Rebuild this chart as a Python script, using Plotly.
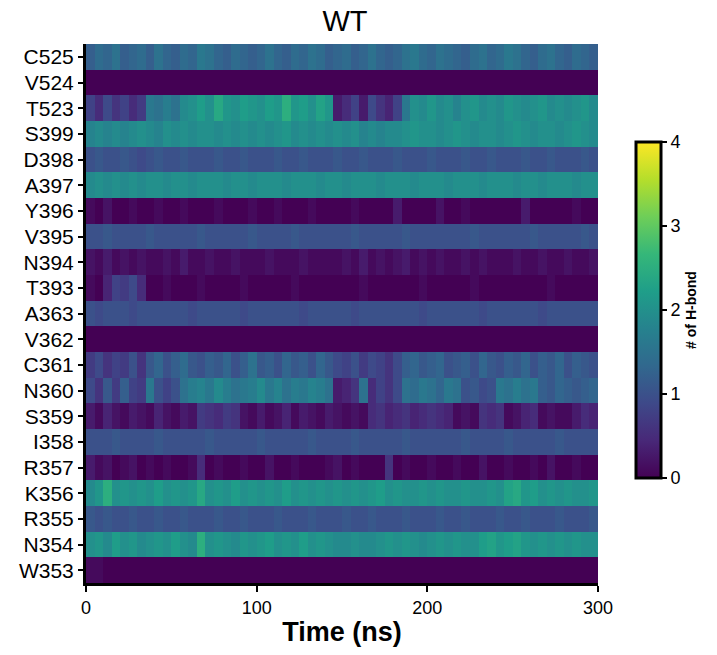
import plotly.graph_objects as go

# residues, bottom to top
residues = ["W353", "N354", "R355", "K356", "R357", "I358", "S359", "N360", "C361",
            "V362", "A363", "T393", "N394", "V395", "Y396", "A397", "D398", "S399",
            "T523", "V524", "C525"]

# time bins, 5 ns each, 0-300 ns
time_ns = [2.5 + 5 * i for i in range(60)]

# number of H-bonds per residue (5 ns bins)
C525 = [1.2, 1.4, 1.3, 1.5, 1.2, 1.3, 1.4, 1.2, 1.5, 1.3,
        1.2, 1.4, 1.3, 1.6, 1.5, 1.3, 1.2, 1.4, 1.3, 1.2,
        1.3, 1.5, 1.3, 1.2, 1.4, 1.3, 1.5, 1.4, 1.2, 1.3,
        1.4, 1.2, 1.3, 1.5, 1.3, 1.2, 1.3, 1.5, 1.6, 1.4,
        1.3, 1.5, 1.4, 1.3, 1.2, 1.4, 1.5, 1.3, 1.4, 1.6,
        1.5, 1.3, 1.2, 1.4, 1.5, 1.3, 1.2, 1.4, 1.3, 1.2]
V524 = [0, 0, 0, 0, 0, 0, 0, 0, 0, 0,
        0, 0, 0, 0, 0, 0, 0, 0, 0, 0,
        0, 0, 0, 0, 0, 0, 0, 0, 0, 0,
        0, 0, 0, 0, 0, 0, 0, 0, 0, 0,
        0, 0, 0, 0, 0, 0, 0, 0, 0, 0,
        0, 0, 0, 0, 0, 0, 0, 0, 0, 0]
T523 = [0.8, 0.5, 0.9, 0.6, 0.8, 0.5, 0.7, 1.6, 1.5, 1.7,
        1.5, 1.9, 2.0, 2.2, 2.0, 2.4, 2.1, 2.0, 2.2, 2.1,
        2.0, 2.2, 2.1, 2.5, 2.1, 2.2, 2.0, 2.3, 2.1, 0.3,
        0.5, 0.8, 0.3, 0.9, 0.6, 0.4, 0.8, 1.6, 2.0, 1.9,
        2.1, 1.9, 2.0, 1.8, 2.0, 2.1, 1.9, 2.0, 1.9, 2.1,
        2.0, 1.9, 2.0, 2.1, 1.9, 2.0, 1.9, 2.0, 2.1, 1.9]
S399 = [1.8, 1.9, 1.8, 1.9, 1.8, 1.9, 2.0, 1.9, 1.8, 2.0,
        1.9, 2.0, 1.9, 2.0, 2.0, 1.9, 2.0, 1.9, 2.0, 1.9,
        2.0, 1.9, 2.0, 2.1, 1.9, 2.0, 1.9, 2.0, 1.9, 2.0,
        1.9, 2.0, 1.8, 1.9, 1.8, 1.9, 1.9, 2.0, 2.1, 2.0,
        2.0, 1.9, 2.0, 2.1, 2.0, 1.9, 2.0, 2.0, 1.9, 2.0,
        2.1, 2.0, 1.9, 2.0, 2.0, 1.9, 2.0, 2.1, 2.0, 1.9]
D398 = [1.0, 1.1, 1.0, 1.0, 1.1, 1.0, 0.9, 1.0, 1.1, 1.0,
        1.0, 1.1, 1.0, 1.0, 1.0, 1.1, 1.0, 1.0, 1.1, 1.0,
        1.0, 1.0, 1.1, 1.0, 1.0, 1.1, 1.0, 1.0, 1.0, 1.1,
        1.0, 1.0, 1.1, 1.0, 1.0, 1.0, 1.1, 1.0, 1.0, 1.0,
        1.1, 1.0, 1.0, 1.0, 1.1, 1.0, 1.0, 1.1, 1.0, 1.0,
        1.0, 1.1, 1.0, 1.0, 1.1, 1.0, 1.0, 1.0, 1.1, 1.0]
A397 = [1.9, 2.0, 1.9, 2.0, 1.9, 2.0, 1.9, 2.0, 2.0, 1.9,
        2.0, 2.0, 1.9, 2.0, 2.0, 2.0, 1.9, 2.0, 2.0, 1.9,
        2.0, 2.0, 2.0, 1.9, 2.0, 2.0, 2.0, 1.9, 2.0, 2.0,
        1.9, 2.0, 2.0, 2.0, 1.9, 2.0, 2.0, 2.0, 1.9, 2.0,
        2.0, 2.0, 1.9, 2.0, 2.0, 2.0, 1.9, 2.0, 2.0, 2.0,
        1.9, 2.0, 2.0, 1.9, 2.0, 2.0, 2.0, 1.9, 2.0, 2.0]
Y396 = [0.1, 0.0, 0.2, 0.0, 0.0, 0.1, 0.0, 0.0, 0.1, 0.0,
        0.0, 0.1, 0.0, 0.0, 0.0, 0.1, 0.0, 0.0, 0.0, 0.1,
        0.0, 0.0, 0.1, 0.0, 0.0, 0.0, 0.1, 0.0, 0.0, 0.0,
        0.0, 0.1, 0.0, 0.0, 0.0, 0.0, 0.3, 0.0, 0.0, 0.0,
        0.0, 0.2, 0.0, 0.0, 0.1, 0.0, 0.0, 0.0, 0.0, 0.0,
        0.0, 0.3, 0.0, 0.0, 0.0, 0.0, 0.0, 0.1, 0.0, 0.0]
V395 = [1.0, 1.0, 1.1, 1.0, 1.0, 1.0, 1.0, 1.1, 1.0, 1.0,
        1.0, 1.0, 1.0, 1.1, 1.0, 1.0, 1.0, 1.0, 1.0, 1.1,
        1.0, 1.0, 1.0, 1.0, 1.1, 1.0, 1.0, 1.0, 1.0, 1.0,
        1.0, 1.1, 1.0, 1.0, 1.0, 1.0, 1.0, 1.1, 1.0, 1.0,
        1.0, 1.0, 1.0, 1.0, 1.0, 1.1, 1.0, 1.0, 1.0, 1.0,
        1.0, 1.0, 1.1, 1.0, 1.0, 1.0, 1.0, 1.0, 1.1, 1.0]
N394 = [0.2, 0.1, 0.3, 0.1, 0.2, 0.1, 0.2, 0.1, 0.1, 0.2,
        0.1, 0.3, 0.1, 0.1, 0.2, 0.1, 0.1, 0.2, 0.1, 0.1,
        0.1, 0.2, 0.1, 0.1, 0.1, 0.2, 0.1, 0.1, 0.1, 0.1,
        0.2, 0.1, 0.3, 0.1, 0.2, 0.1, 0.2, 0.3, 0.1, 0.2,
        0.1, 0.2, 0.1, 0.1, 0.2, 0.1, 0.2, 0.1, 0.1, 0.1,
        0.2, 0.1, 0.1, 0.2, 0.1, 0.1, 0.2, 0.1, 0.1, 0.2]
T393 = [0.1, 0.0, 0.4, 0.8, 0.7, 0.9, 0.5, 0.0, 0.0, 0.1,
        0.0, 0.0, 0.0, 0.1, 0.0, 0.0, 0.0, 0.0, 0.1, 0.0,
        0.0, 0.0, 0.0, 0.0, 0.1, 0.0, 0.0, 0.0, 0.0, 0.0,
        0.0, 0.0, 0.1, 0.0, 0.0, 0.0, 0.0, 0.0, 0.0, 0.1,
        0.0, 0.0, 0.0, 0.0, 0.0, 0.1, 0.0, 0.0, 0.0, 0.0,
        0.0, 0.0, 0.0, 0.0, 0.1, 0.0, 0.0, 0.0, 0.0, 0.0]
A363 = [1.0, 0.9, 1.0, 1.0, 1.0, 0.9, 1.0, 1.0, 1.0, 1.0,
        1.0, 1.0, 0.9, 1.0, 1.0, 1.0, 1.0, 1.0, 0.9, 1.0,
        1.0, 1.0, 1.0, 1.0, 1.0, 0.9, 1.0, 1.0, 1.0, 1.0,
        1.0, 0.9, 1.0, 1.0, 1.0, 1.0, 1.0, 1.0, 1.0, 0.9,
        1.0, 1.0, 1.0, 1.0, 1.0, 1.0, 0.9, 1.0, 1.0, 1.0,
        1.0, 1.0, 1.0, 0.9, 1.0, 1.0, 1.0, 1.0, 1.0, 1.0]
V362 = [0, 0, 0, 0, 0, 0, 0, 0, 0, 0,
        0, 0, 0, 0, 0, 0, 0, 0, 0, 0,
        0, 0, 0, 0, 0, 0, 0, 0, 0, 0,
        0, 0, 0, 0, 0, 0, 0, 0, 0, 0,
        0, 0, 0, 0, 0, 0, 0, 0, 0, 0,
        0, 0, 0, 0, 0, 0, 0, 0, 0, 0]
C361 = [0.7, 0.9, 0.6, 0.8, 0.7, 1.0, 0.6, 1.1, 1.3, 1.0,
        1.2, 1.4, 1.1, 1.0, 1.2, 1.1, 1.3, 1.0, 1.2, 1.5,
        1.1, 1.2, 1.0, 1.3, 1.1, 1.2, 1.0, 1.3, 1.1, 0.9,
        0.8, 1.0, 0.7, 0.9, 0.8, 0.6, 0.9, 1.2, 1.3, 1.1,
        1.2, 1.3, 1.0, 1.1, 1.2, 1.0, 1.3, 1.1, 1.0, 1.2,
        1.1, 1.3, 1.0, 1.2, 1.1, 1.3, 1.0, 1.2, 1.1, 1.0]
N360 = [0.9, 0.6, 1.1, 0.7, 1.2, 0.8, 0.7, 1.6, 1.0, 0.8,
        1.0, 1.5, 1.7, 1.8, 1.6, 1.9, 1.7, 1.5, 1.6, 1.7,
        1.9, 1.6, 1.8, 1.5, 1.7, 1.6, 1.8, 1.7, 1.5, 0.3,
        0.4, 0.6, 1.5, 0.5, 0.8, 0.6, 0.9, 1.5, 1.4, 1.6,
        1.5, 1.3, 1.6, 1.5, 1.0, 1.1, 0.9, 1.0, 1.6, 1.5,
        1.7, 1.5, 1.6, 1.2, 1.1, 1.3, 1.2, 1.1, 1.2, 1.3]
S359 = [0.3, 0.1, 0.4, 0.2, 0.1, 0.3, 0.2, 0.1, 0.4, 0.2,
        0.1, 0.3, 0.2, 0.7, 0.6, 0.5, 0.7, 0.6, 0.2, 0.1,
        0.3, 0.1, 0.2, 0.4, 0.1, 0.3, 0.2, 0.1, 0.3, 0.2,
        0.1, 0.2, 0.1, 0.5, 0.6, 0.4, 0.5, 0.6, 0.4, 0.5,
        0.6, 0.5, 0.4, 0.1, 0.2, 0.1, 0.6, 0.5, 0.6, 0.1,
        0.2, 0.4, 0.5, 0.1, 0.2, 0.1, 0.1, 0.3, 0.5, 0.4]
I358 = [1.0, 1.0, 1.0, 1.1, 1.0, 1.0, 1.0, 1.0, 1.1, 1.0,
        1.0, 1.0, 1.0, 1.0, 1.1, 1.0, 1.0, 1.0, 1.0, 1.0,
        1.1, 1.0, 1.0, 1.0, 1.0, 1.0, 1.1, 1.0, 1.0, 1.0,
        1.0, 1.1, 1.0, 1.0, 1.0, 1.0, 1.0, 1.1, 1.0, 1.0,
        1.0, 1.0, 1.0, 1.0, 1.1, 1.0, 1.0, 1.0, 1.0, 1.1,
        1.0, 1.0, 1.0, 1.0, 1.0, 1.1, 1.0, 1.0, 1.0, 1.0]
R357 = [0.3, 0.1, 0.2, 0.0, 0.1, 0.2, 0.0, 0.1, 0.0, 0.1,
        0.0, 0.0, 0.1, 0.5, 0.0, 0.1, 0.0, 0.0, 0.1, 0.0,
        0.0, 0.2, 0.0, 0.0, 0.1, 0.0, 0.0, 0.0, 0.1, 0.2,
        0.0, 0.1, 0.0, 0.0, 0.0, 0.6, 0.0, 0.1, 0.0, 0.0,
        0.1, 0.0, 0.0, 0.1, 0.0, 0.0, 0.2, 0.0, 0.0, 0.1,
        0.0, 0.0, 0.1, 0.0, 0.2, 0.0, 0.0, 0.1, 0.0, 0.0]
K356 = [1.9, 2.1, 2.5, 2.0, 2.1, 2.0, 2.1, 2.0, 2.2, 2.0,
        2.1, 2.0, 2.1, 2.4, 2.0, 2.1, 2.0, 2.2, 2.0, 2.1,
        2.0, 2.1, 2.0, 2.2, 2.0, 2.1, 2.0, 2.1, 2.0, 2.1,
        2.0, 2.1, 2.0, 2.1, 2.2, 2.0, 2.1, 2.0, 2.0, 2.1,
        2.0, 2.1, 2.0, 2.0, 2.1, 2.0, 2.0, 2.1, 2.0, 2.3,
        2.4, 2.1, 2.2, 2.0, 2.1, 2.0, 2.1, 2.0, 2.0, 2.1]
R355 = [1.1, 1.0, 1.1, 1.0, 1.0, 1.1, 1.0, 1.0, 1.1, 1.0,
        1.0, 1.1, 1.0, 1.0, 1.0, 1.1, 1.0, 1.0, 1.1, 1.0,
        1.0, 1.0, 1.1, 1.0, 1.0, 1.0, 1.1, 1.0, 1.0, 1.0,
        1.1, 1.0, 1.0, 1.1, 1.0, 1.0, 1.0, 1.1, 1.0, 1.0,
        1.0, 1.1, 1.0, 1.0, 1.1, 1.0, 1.0, 1.0, 1.1, 1.0,
        1.0, 1.1, 1.0, 1.0, 1.0, 1.1, 1.0, 1.0, 1.0, 1.1]
N354 = [2.0, 2.1, 1.9, 2.2, 2.0, 2.1, 1.9, 2.0, 2.1, 2.0,
        2.2, 2.0, 1.9, 2.5, 2.0, 2.1, 2.0, 1.9, 2.1, 2.0,
        2.1, 2.2, 2.0, 2.1, 2.0, 2.2, 2.0, 2.1, 2.0, 1.9,
        1.9, 2.0, 1.9, 1.9, 2.0, 2.1, 2.0, 2.1, 2.0, 1.9,
        2.0, 2.1, 2.0, 2.1, 2.0, 2.0, 2.2, 2.3, 2.1, 2.2,
        2.3, 2.1, 2.0, 2.1, 2.0, 2.1, 2.0, 2.1, 2.0, 2.0]
W353 = [0.1, 0.1, 0.0, 0.0, 0.0, 0.0, 0.0, 0.0, 0.0, 0.0,
        0.0, 0.0, 0.0, 0.0, 0.0, 0.0, 0.0, 0.0, 0.0, 0.0,
        0.0, 0.0, 0.0, 0.0, 0.0, 0.0, 0.0, 0.0, 0.0, 0.0,
        0.0, 0.0, 0.0, 0.0, 0.0, 0.0, 0.0, 0.0, 0.0, 0.0,
        0.0, 0.0, 0.0, 0.0, 0.0, 0.0, 0.0, 0.0, 0.0, 0.0,
        0.0, 0.0, 0.0, 0.0, 0.0, 0.0, 0.0, 0.0, 0.0, 0.0]

z = [W353, N354, R355, K356, R357, I358, S359, N360, C361, V362, A363,
     T393, N394, V395, Y396, A397, D398, S399, T523, V524, C525]

FONT = "Arial, Liberation Sans, sans-serif"

fig = go.Figure(go.Heatmap(
    x=time_ns, y=residues, z=z,
    colorscale="Viridis", zmin=0, zmax=4,
    colorbar=dict(
        x=1.074, xanchor="left", xpad=0, y=0.5065, yanchor="middle", ypad=0,
        len=0.623, lenmode="fraction", thickness=25,
        outlinewidth=3, outlinecolor="black",
        ticks="outside", ticklen=5, tickwidth=1.5, tickcolor="black",
        tickvals=[0, 1, 2, 3, 4],
        tickfont=dict(family=FONT, size=18, color="black"),
        title=dict(text="<b># of H-bond</b>", side="right",
                   font=dict(family=FONT, size=14, color="black")),
    ),
))

# page body adds an 8 px offset, so the figure is 709 x 647
fig.update_layout(
    width=709, height=647,
    margin=dict(l=78, r=119, t=36, b=72, autoexpand=False),
    paper_bgcolor="white", plot_bgcolor="white",
    title=dict(text="WT", x=337 / 709, xanchor="center", y=1 - 3 / 647, yanchor="top",
               font=dict(family=FONT, size=29, color="black")),
    font=dict(family=FONT, color="black"),
)
fig.update_xaxes(
    range=[0, 300], tickvals=[0, 100, 200, 300],
    ticks="outside", ticklen=6, tickwidth=1.5, tickcolor="black",
    showline=True, linewidth=3, linecolor="black", showgrid=False, zeroline=False,
    tickfont=dict(family=FONT, size=18, color="black"),
    title=dict(text="<b>Time (ns)</b>", standoff=6,
               font=dict(family=FONT, size=27, color="black")),
)
fig.update_yaxes(
    ticks="outside", ticklen=5, tickwidth=1.5, tickcolor="black",
    showline=True, linewidth=3, linecolor="black", showgrid=False, zeroline=False,
    tickfont=dict(family=FONT, size=21, color="black"),
)

fig.write_html("out.html")
